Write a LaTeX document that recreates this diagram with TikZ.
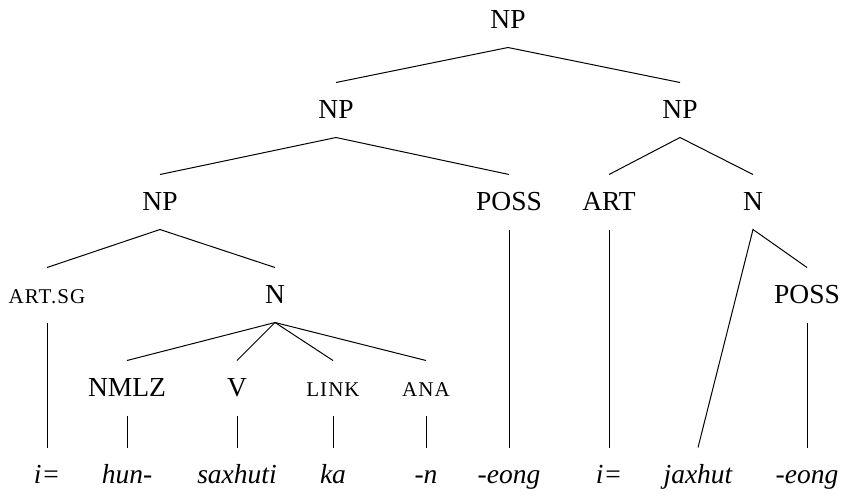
\documentclass[tikz,border=0pt]{standalone}
\usepackage{fontspec}
\setmainfont{Liberation Serif}
\newfontfamily\scfont[LetterSpace=5]{Liberation Serif}
\newcommand\fsc[1]{{\scfont\fontsize{21}{21}\selectfont #1}}
\begin{document}
\begin{tikzpicture}[x=1pt,y=-1pt,
  lab/.style={inner sep=0pt,outer sep=0pt,minimum height=55pt,text height=23pt,text depth=6pt,font=\fontsize{27.5}{27.5}\selectfont},
  wd/.style={lab,font=\fontsize{27.5}{27.5}\selectfont\itshape},
  br/.style={line width=1pt}]
\useasboundingbox (0,0) rectangle (845,496);
\node[lab] (np0) at (508,20) {NP};
\node[lab] (np1) at (336,110) {NP};
\node[lab] (np2) at (680,110) {NP};
\node[lab] (np3) at (160,202) {NP};
\node[lab] (poss1) at (509,202) {POSS};
\node[lab] (art) at (609,202) {ART};
\node[lab] (n2) at (753,202) {N};
\node[lab] (artsg) at (47,295) {\fsc{ART.SG}};
\node[lab] (n1) at (275,295) {N};
\node[lab] (poss2) at (807,295) {POSS};
\node[lab] (nmlz) at (127,388) {NMLZ};
\node[lab] (v) at (237,388) {V};
\node[lab] (link) at (333,388) {\fsc{LINK}};
\node[lab] (ana) at (426,388) {\fsc{ANA}};
\node[wd] (w1) at (47,475) {i=};
\node[wd] (w2) at (127,475) {hun-};
\node[wd] (w3) at (237,475) {saxhuti};
\node[wd] (w4) at (333,475) {ka};
\node[wd] (w5) at (426,475) {-n};
\node[wd] (w6) at (509,475) {-eong};
\node[wd] (w7) at (609,475) {i=};
\node[wd] (w8) at (698,475) {jaxhut};
\node[wd] (w9) at (807,475) {-eong};
\draw[br] (np1.north) -- (np0.south) -- (np2.north);
\draw[br] (np3.north) -- (np1.south) -- (poss1.north);
\draw[br] (art.north) -- (np2.south) -- (n2.north);
\draw[br] (artsg.north) -- (np3.south) -- (n1.north);
\draw[br] (n1.south) -- (nmlz.north);
\draw[br] (n1.south) -- (v.north);
\draw[br] (n1.south) -- (link.north);
\draw[br] (n1.south) -- (ana.north);
\draw[br] (artsg.south) -- (w1.north);
\draw[br] (nmlz.south) -- (w2.north);
\draw[br] (v.south) -- (w3.north);
\draw[br] (link.south) -- (w4.north);
\draw[br] (ana.south) -- (w5.north);
\draw[br] (poss1.south) -- (w6.north);
\draw[br] (art.south) -- (w7.north);
\draw[br] (w8.north) -- (n2.south) -- (poss2.north);
\draw[br] (poss2.south) -- (w9.north);
\end{tikzpicture}
\end{document}
